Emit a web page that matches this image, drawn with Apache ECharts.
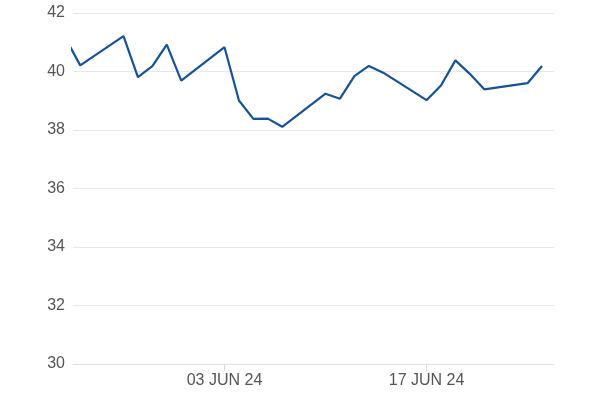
<!DOCTYPE html>
<html>
<head>
<meta charset="utf-8">
<script src="https://cdn.jsdelivr.net/npm/echarts@6/dist/echarts.min.js"></script>
<style>html,body{margin:0;padding:0;background:#fff}#c{width:600px;height:400px}</style>
</head>
<body>
<div id="c"></div>
<script>
const dates = ['2024-05-23','2024-05-24','2024-05-27','2024-05-28','2024-05-29','2024-05-30','2024-05-31',
  '2024-06-03','2024-06-04','2024-06-05','2024-06-06','2024-06-07',
  '2024-06-10','2024-06-11','2024-06-12','2024-06-13','2024-06-14',
  '2024-06-17','2024-06-18','2024-06-19','2024-06-20','2024-06-21',
  '2024-06-24','2024-06-25'];
const values = [41.12,40.21,41.21,39.81,40.18,40.92,39.69,
  40.83,39.01,38.38,38.39,38.11,
  39.24,39.07,39.84,40.19,39.96,
  39.02,39.52,40.38,39.92,39.39,
  39.60,40.19];
const xTickDates = ['2024-06-03','2024-06-17'];
const yTicks = {min:30, max:42, interval:2};
const months = ['JAN','FEB','MAR','APR','MAY','JUN','JUL','AUG','SEP','OCT','NOV','DEC'];

const ts = s => Date.UTC(+s.slice(0,4), +s.slice(5,7)-1, +s.slice(8,10));
const tickVals = xTickDates.map(ts);
const chart = echarts.init(document.getElementById('c'), null, {renderer:'canvas'});
chart.setOption({
  animation:false,
  grid:{left:73, right:46, top:13, bottom:36, containLabel:false},
  xAxis:{
    type:'value',
    min: Date.UTC(2024,4,23,12),
    max: Date.UTC(2024,5,25,20),
    axisLine:{show:true, lineStyle:{color:'#dde1e7', width:1}},
    axisTick:{show:true, customValues:tickVals, length:7, lineStyle:{color:'#d5dae1'}},
    axisLabel:{
      customValues:tickVals, margin:9, color:'#555', fontSize:16, fontFamily:'Liberation Sans',
      formatter:function(v){const d=new Date(v);return String(d.getUTCDate()).padStart(2,'0')+' '+months[d.getUTCMonth()]+' '+String(d.getUTCFullYear()).slice(2);}
    },
    splitLine:{show:false}
  },
  yAxis:{
    type:'value', min:yTicks.min, max:yTicks.max, interval:yTicks.interval,
    axisLine:{show:false}, axisTick:{show:false},
    axisLabel:{color:'#555', fontSize:16, fontFamily:'Liberation Sans', margin:8},
    splitLine:{lineStyle:{color:'#e8e8e8', width:1}}
  },
  series:[{
    type:'line',
    data: dates.map((d,i)=>[ts(d), values[i]]),
    showSymbol:false, symbol:'none',
    lineStyle:{color:'#14529a', width:2.2},
    clip:true
  }]
});
</script>
</body>
</html>
